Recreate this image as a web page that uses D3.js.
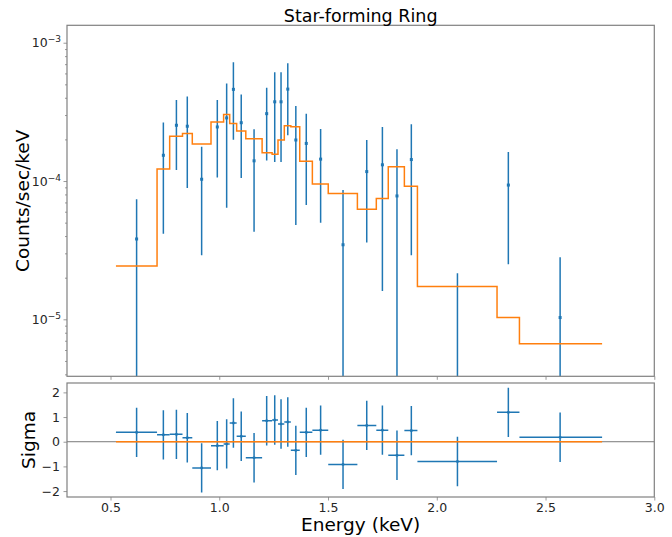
<!DOCTYPE html>
<html>
<head>
<meta charset="utf-8">
<script src="https://cdn.jsdelivr.net/npm/d3@7"></script>
<style>
  body { margin: 0; background: #fff; }
  text { font-family: "DejaVu Sans", sans-serif; }
</style>
</head>
<body>
<svg width="672" height="537"></svg>
<script>
// Spectrum bins (keV)
let energy = [0.620, 0.743, 0.803, 0.853, 0.919, 0.991, 1.034, 1.065, 1.101, 1.160, 1.218, 1.255, 1.284,
              1.315, 1.352, 1.400, 1.466, 1.569, 1.678, 1.750, 1.817, 1.883, 2.095, 2.329, 2.567]
let binLo = [0.525, 0.714, 0.772, 0.831, 0.876, 0.962, 1.020, 1.048, 1.080, 1.122, 1.197, 1.243, 1.270,
             1.299, 1.329, 1.370, 1.428, 1.501, 1.635, 1.722, 1.777, 1.851, 1.911, 2.277, 2.380]
let binHi = [0.714, 0.772, 0.831, 0.876, 0.962, 1.020, 1.048, 1.080, 1.122, 1.197, 1.243, 1.270, 1.299,
             1.329, 1.370, 1.428, 1.501, 1.635, 1.722, 1.777, 1.851, 1.911, 2.277, 2.380, 2.760]

// Counts/sec/keV
let rate = [3.81e-5, 1.535e-4, 2.53e-4, 2.49e-4, 1.03e-4, 2.46e-4, 2.86e-4, 4.60e-4, 2.64e-4, 1.40e-4,
            3.07e-4, 3.74e-4, 3.74e-4, 4.62e-4, 1.98e-4, 1.87e-4, 1.44e-4, 3.46e-5, 1.17e-4, 1.31e-4,
            7.8e-5, 1.43e-4, 2.0e-6, 9.35e-5, 1.03e-5]
let rateErr = [3.57e-5, 1.12e-4, 1.33e-4, 1.60e-4, 7.4e-5, 1.40e-4, 2.22e-4, 2.61e-4, 1.59e-4, 9.7e-5,
               1.66e-4, 2.37e-4, 2.37e-4, 2.48e-4, 1.50e-4, 1.20e-4, 9.4e-5, 5.15e-5, 8.1e-5, 1.15e-4,
               9.2e-5, 1.14e-4, 1.95e-5, 6.85e-5, 1.78e-5]
let model = [2.43e-5, 1.22e-4, 2.11e-4, 2.21e-4, 1.85e-4, 2.67e-4, 3.03e-4, 2.61e-4, 2.30e-4, 2.02e-4,
             1.60e-4, 1.56e-4, 1.98e-4, 2.51e-4, 2.47e-4, 1.39e-4, 9.5e-5, 8.14e-5, 6.24e-5, 7.49e-5,
             1.27e-4, 9.16e-5, 1.73e-5, 1.03e-5, 6.67e-6]

// residuals (sigma)
let sigma = [0.38, 0.28, 0.30, 0.16, -1.06, -0.16, -0.09, 0.76, 0.22, -0.65, 0.85, 0.88, 0.72, 0.80,
             -0.35, 0.38, 0.47, -0.92, 0.66, 0.47, -0.55, 0.45, -0.80, 1.19, 0.18]

let xTicks = [0.5, 1.0, 1.5, 2.0, 2.5, 3.0]
let yTicksTop = [1e-5, 1e-4, 1e-3]
let yTicksBottom = [-2, -1, 0, 1, 2]

let svg = d3.select('svg')
let blue = '#1f77b4'
let orange = '#ff7f0e'
let spine = '#808080'
let labelColor = '#262626'

let left = 67, right = 654.3
let panelTop = {y0: 25.3, y1: 376.3}
let panelBot = {y0: 383, y1: 497}

let x = d3.scaleLinear().domain([0.3, 3.0]).range([left, right])
let yTop = d3.scaleLog().domain([Math.pow(10, -5.412), Math.pow(10, -2.874)]).range([panelTop.y1, panelTop.y0])
let yBot = d3.scaleLinear().domain([-2.24, 2.38]).range([panelBot.y1, panelBot.y0])

let defs = svg.append('defs')
defs.append('clipPath').attr('id', 'clipTop').append('rect')
    .attr('x', left).attr('y', panelTop.y0).attr('width', right - left).attr('height', panelTop.y1 - panelTop.y0)
defs.append('clipPath').attr('id', 'clipBot').append('rect')
    .attr('x', left).attr('y', panelBot.y0).attr('width', right - left).attr('height', panelBot.y1 - panelBot.y0)

function styleAxis(g) {
    g.select('.domain').remove()
    g.selectAll('.tick line').attr('stroke', spine).attr('stroke-width', 0.8)
    g.selectAll('.tick text').attr('fill', labelColor).attr('font-size', 12.5)
        .attr('font-family', 'DejaVu Sans')
}

// ---- top panel ----
let gTop = svg.append('g')

// x ticks without labels
gTop.append('g')
    .attr('transform', `translate(0,${panelTop.y1})`)
    .call(d3.axisBottom(x).tickValues(xTicks).tickSize(3.5).tickFormat(''))
    .call(styleAxis)

// minor log ticks
let minor = []
for (let e = -6; e <= -3; e++) for (let m = 2; m <= 9; m++) {
    let v = m * Math.pow(10, e)
    if (v >= yTop.domain()[0] && v <= yTop.domain()[1]) minor.push(v)
}
gTop.append('g')
    .attr('transform', `translate(${left},0)`)
    .call(d3.axisLeft(yTop).tickValues(minor).tickSize(2).tickFormat(''))
    .call(styleAxis)

let yAxisTop = gTop.append('g')
    .attr('transform', `translate(${left},0)`)
    .call(d3.axisLeft(yTop).tickValues(yTicksTop).tickSize(3.5).tickFormat(''))
    .call(styleAxis)

yAxisTop.selectAll('.tick').each(function (d) {
    let t = d3.select(this).append('text')
        .attr('x', -6).attr('dy', '0.32em')
        .attr('text-anchor', 'end')
        .attr('fill', labelColor)
        .attr('font-size', 12.5)
    t.append('tspan').text('10')
    t.append('tspan').attr('dy', '-0.55em').attr('font-size', 9)
        .text('\u2212' + Math.abs(Math.round(Math.log10(d))))
})

let plotTop = gTop.append('g').attr('clip-path', 'url(#clipTop)')

// error bars
plotTop.selectAll('line.err')
    .data(energy)
    .join('line')
    .attr('class', 'err')
    .attr('x1', d => x(d)).attr('x2', d => x(d))
    .attr('y1', (d, i) => rate[i] - rateErr[i] > 0 ? yTop(rate[i] - rateErr[i]) : panelTop.y1 + 5)
    .attr('y2', (d, i) => yTop(rate[i] + rateErr[i]))
    .attr('stroke', blue).attr('stroke-width', 1.5)

plotTop.selectAll('rect.pt')
    .data(energy)
    .join('rect')
    .attr('class', 'pt')
    .attr('x', d => x(d) - 1.5)
    .attr('y', (d, i) => yTop(rate[i]) - 1.5)
    .attr('width', 3).attr('height', 3)
    .attr('fill', blue)

// model step line
let stepPts = binLo.map((d, i) => [d, model[i]])
stepPts.push([binHi[binHi.length - 1], model[model.length - 1]])
plotTop.append('path')
    .attr('d', d3.line().x(d => x(d[0])).y(d => yTop(d[1])).curve(d3.curveStepAfter)(stepPts))
    .attr('fill', 'none')
    .attr('stroke', orange).attr('stroke-width', 1.5)

gTop.append('rect')
    .attr('x', left).attr('y', panelTop.y0).attr('width', right - left).attr('height', panelTop.y1 - panelTop.y0)
    .attr('fill', 'none').attr('stroke', spine).attr('stroke-width', 1.2)

// ---- bottom panel ----
let gBot = svg.append('g')

gBot.append('g')
    .attr('transform', `translate(0,${panelBot.y1})`)
    .call(d3.axisBottom(x).tickValues(xTicks).tickSize(3.5).tickPadding(3).tickFormat(d3.format('.1f')))
    .call(styleAxis)

gBot.append('g')
    .attr('transform', `translate(${left},0)`)
    .call(d3.axisLeft(yBot).tickValues(yTicksBottom).tickSize(3.5).tickPadding(3.5)
        .tickFormat(d => d < 0 ? '\u2212' + Math.abs(d) : d))
    .call(styleAxis)

let plotBot = gBot.append('g').attr('clip-path', 'url(#clipBot)')

// zero reference line
plotBot.append('line')
    .attr('x1', left).attr('x2', right)
    .attr('y1', yBot(0)).attr('y2', yBot(0))
    .attr('stroke', '#555').attr('stroke-width', 0.8)

plotBot.selectAll('line.xerr')
    .data(energy)
    .join('line')
    .attr('class', 'xerr')
    .attr('x1', (d, i) => x(binLo[i])).attr('x2', (d, i) => x(binHi[i]))
    .attr('y1', (d, i) => yBot(sigma[i])).attr('y2', (d, i) => yBot(sigma[i]))
    .attr('stroke', blue).attr('stroke-width', 1.5)

plotBot.selectAll('line.yerr')
    .data(energy)
    .join('line')
    .attr('class', 'yerr')
    .attr('x1', d => x(d)).attr('x2', d => x(d))
    .attr('y1', (d, i) => yBot(sigma[i] - 1)).attr('y2', (d, i) => yBot(sigma[i] + 1))
    .attr('stroke', blue).attr('stroke-width', 1.5)

plotBot.selectAll('rect.pt')
    .data(energy)
    .join('rect')
    .attr('class', 'pt')
    .attr('x', d => x(d) - 1.2)
    .attr('y', (d, i) => yBot(sigma[i]) - 1.2)
    .attr('width', 2.4).attr('height', 2.4)
    .attr('fill', blue)

plotBot.append('line')
    .attr('x1', x(binLo[0])).attr('x2', x(binHi[binHi.length - 1]))
    .attr('y1', yBot(0)).attr('y2', yBot(0))
    .attr('stroke', orange).attr('stroke-width', 1.5)

gBot.append('rect')
    .attr('x', left).attr('y', panelBot.y0).attr('width', right - left).attr('height', panelBot.y1 - panelBot.y0)
    .attr('fill', 'none').attr('stroke', spine).attr('stroke-width', 1.2)

// ---- labels ----
svg.append('text')
    .attr('x', (left + right) / 2).attr('y', 21.5)
    .attr('text-anchor', 'middle')
    .attr('font-size', 17.5).attr('fill', '#000')
    .text('Star-forming Ring')

svg.append('text')
    .attr('transform', `translate(29,${(panelTop.y0 + panelTop.y1) / 2}) rotate(-90)`)
    .attr('text-anchor', 'middle')
    .attr('font-size', 18.5).attr('fill', '#000')
    .text('Counts/sec/keV')

svg.append('text')
    .attr('transform', `translate(35,${(panelBot.y0 + panelBot.y1) / 2}) rotate(-90)`)
    .attr('text-anchor', 'middle')
    .attr('font-size', 18.5).attr('fill', '#000')
    .text('Sigma')

svg.append('text')
    .attr('x', (left + right) / 2).attr('y', 531)
    .attr('text-anchor', 'middle')
    .attr('font-size', 18.5).attr('fill', '#000')
    .text('Energy (keV)')
</script>
</body>
</html>
